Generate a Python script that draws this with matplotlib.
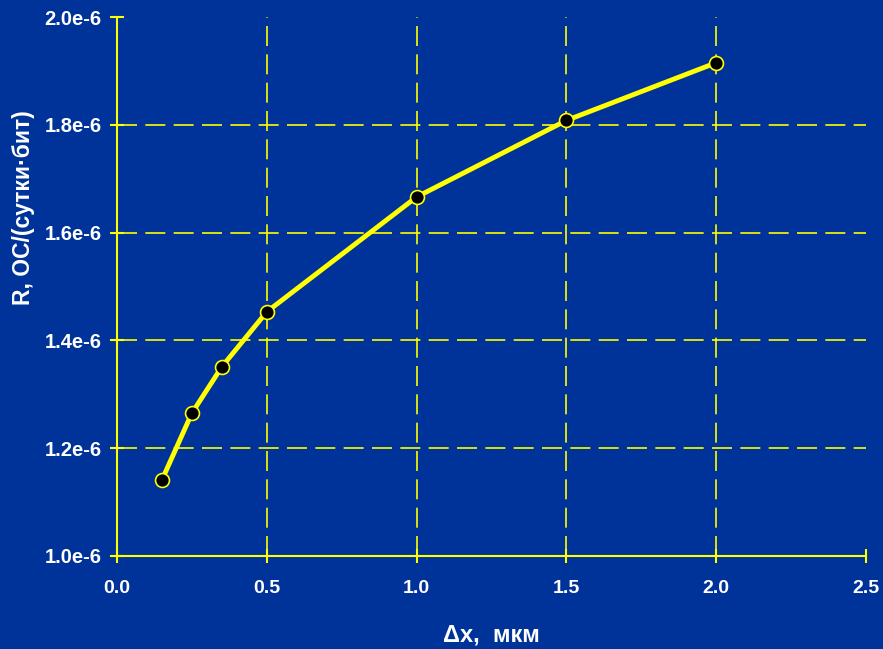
import matplotlib
matplotlib.use("Agg")
import matplotlib.pyplot as plt
from matplotlib.ticker import FuncFormatter

dx = [0.15, 0.25, 0.35, 0.5, 1.0, 1.5, 2.0]
rate = [1.141e-6, 1.265e-6, 1.351e-6, 1.453e-6, 1.666e-6, 1.808e-6, 1.915e-6]
xticks = [0.0, 0.5, 1.0, 1.5, 2.0, 2.5]
yticks = [1.0e-6, 1.2e-6, 1.4e-6, 1.6e-6, 1.8e-6, 2.0e-6]

BG = "#003399"
YEL = "#ffff00"

plt.rcParams["font.family"] = ["Liberation Sans", "DejaVu Sans"]
plt.rcParams["font.weight"] = "bold"
plt.rcParams["axes.labelweight"] = "bold"

fig = plt.figure(figsize=(8.83, 6.49), dpi=100, facecolor=BG)
ax = fig.add_axes([0.1325, 0.1433, 0.848, 0.8305], facecolor=BG)

# dashed grid only at inner ticks (none on the top/right edges)
for x in xticks[1:-1]:
    ax.axvline(x, color=YEL, ls=(0, (12, 5)), lw=1.2, zorder=1)
for y in yticks[1:-1]:
    ax.axhline(y, color=YEL, ls=(0, (12, 5)), lw=1.2, zorder=1)

ax.plot(dx, rate, color=YEL, lw=3.5, zorder=3)
ax.plot(dx, rate, "o", ms=10, mfc="black", mec=YEL, mew=1.2, zorder=4)

ax.set_xlim(0, 2.5)
ax.set_ylim(1.0e-6, 2.0e-6)
ax.set_xticks(xticks)
ax.set_yticks(yticks)
ax.yaxis.set_major_formatter(FuncFormatter(lambda v, p: f"{v * 1e6:.1f}e-6"))
ax.xaxis.set_major_formatter(FuncFormatter(lambda v, p: f"{v:.1f}"))

for side in ["top", "right"]:
    ax.spines[side].set_visible(False)
for side in ["left", "bottom"]:
    ax.spines[side].set_color(YEL)
    ax.spines[side].set_linewidth(1.5)

ax.tick_params(axis="both", direction="inout", length=10, width=1.5, color=YEL,
               labelcolor="white", labelsize=14)
ax.tick_params(axis="y", labelsize=14.5, pad=6)
ax.tick_params(axis="x", pad=12)

ax.set_xlabel("Δx,  мкм", color="white", fontsize=17)
ax.set_ylabel("R, ОС/(сутки·бит)", color="white", fontsize=16.5)
ax.xaxis.set_label_coords(0.5, -0.125)
ax.yaxis.set_label_coords(-0.11, 0.647)

fig.savefig("out.png", dpi=100, facecolor=BG)
